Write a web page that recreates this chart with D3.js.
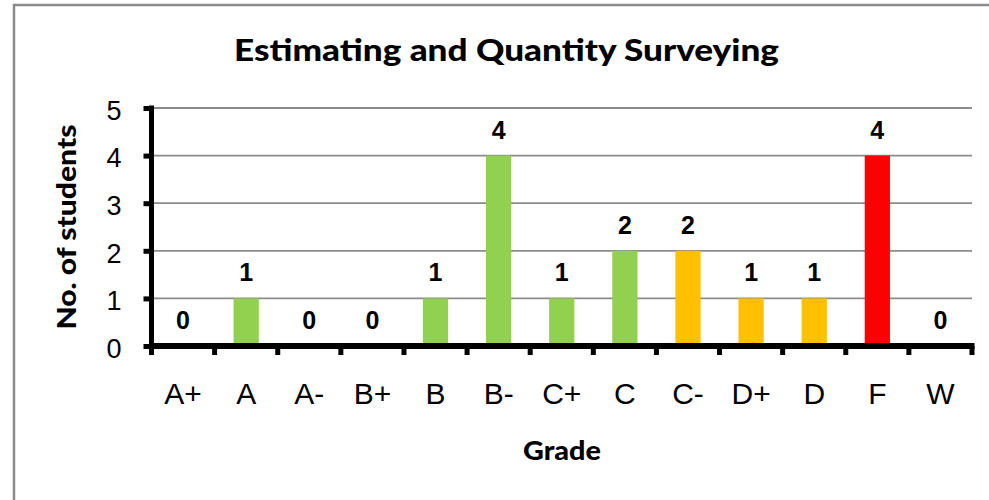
<!DOCTYPE html>
<html>
<head>
<meta charset="utf-8">
<script src="https://cdn.jsdelivr.net/npm/d3@7"></script>
<style>
  body { margin: 0; background: #fff; }
  svg { display: block; }
</style>
</head>
<body>
<script>
const WIDTH  = 989;
const HEIGHT = 500;

// data
const grades   = ["A+", "A", "A-", "B+", "B", "B-", "C+", "C", "C-", "D+", "D", "F", "W"];
const students = [0, 1, 0, 0, 1, 4, 1, 2, 2, 1, 1, 4, 0];
const bands    = ["pass", "pass", "pass", "pass", "pass", "pass", "pass", "pass", "low", "low", "low", "fail", "none"];
const yTicks   = [0, 1, 2, 3, 4, 5];

const dataset = grades.map((g, i) => ({ grade: g, value: students[i], band: bands[i] }));

const colour = d3.scaleOrdinal()
  .domain(["pass", "low", "fail", "none"])
  .range(["#92D050", "#FFC000", "#FF0000", "#92D050"]);

const svg = d3.select("body").append("svg")
  .attr("width", WIDTH)
  .attr("height", HEIGHT);

svg.append("rect")
  .attr("width", WIDTH).attr("height", HEIGHT)
  .attr("fill", "#fff");

// chart frame (runs off the right and bottom of the picture)
svg.append("rect")
  .attr("x", 14).attr("y", 5)
  .attr("width", 1100).attr("height", 600)
  .attr("fill", "none")
  .attr("stroke", "#8c8c8c")
  .attr("stroke-width", 2.5);

const xScale = d3.scaleBand()
  .domain(grades)
  .range([151.5, 972])
  .paddingInner(0.6)
  .paddingOuter(0.3);

const yScale = d3.scaleLinear()
  .domain([0, 5])
  .range([346, 108]);

// gridlines
svg.append("g")
  .selectAll("line")
  .data(yTicks.filter(d => d > 0))
  .enter().append("line")
    .attr("x1", 151.5).attr("x2", 972)
    .attr("y1", d => yScale(d)).attr("y2", d => yScale(d))
    .attr("stroke", "#8c8c8c")
    .attr("stroke-width", 1.8);

// bars
svg.append("g")
  .selectAll("rect")
  .data(dataset)
  .enter().append("rect")
    .attr("x", d => xScale(d.grade))
    .attr("y", d => yScale(d.value))
    .attr("width", xScale.bandwidth())
    .attr("height", d => yScale(0) - yScale(d.value))
    .attr("fill", d => colour(d.band));

// value labels
svg.append("g")
  .selectAll("text")
  .data(dataset)
  .enter().append("text")
    .attr("x", d => xScale(d.grade) + xScale.bandwidth() / 2)
    .attr("y", d => yScale(d.value) - 17)
    .attr("text-anchor", "middle")
    .style("font-family", "'Liberation Sans', Arial, sans-serif")
    .style("font-weight", "bold")
    .style("font-size", "25px")
    .text(d => d.value);

// y axis
const yAxis = d3.axisLeft(yScale)
  .tickValues(yTicks)
  .tickFormat(d3.format("d"))
  .tickSize(8)
  .tickSizeOuter(0)
  .tickPadding(22);

const yG = svg.append("g")
  .attr("transform", "translate(151.5,0)")
  .call(yAxis);
yG.select(".domain").attr("stroke", "#000").attr("stroke-width", 5).attr("d", "M0,105.5V348.5");
yG.selectAll(".tick line").attr("stroke", "#000").attr("stroke-width", 5);
yG.selectAll(".tick text")
  .attr("dy", "0.42em")
  .style("font-family", "'Liberation Sans', Arial, sans-serif")
  .style("font-size", "27px")
  .attr("fill", "#000");

// x axis: labels in the middle of each band, ticks on the band edges
const xAxis = d3.axisBottom(xScale)
  .tickSize(0)
  .tickSizeOuter(0)
  .tickPadding(37);

const xG = svg.append("g")
  .attr("transform", "translate(0," + yScale(0) + ")")
  .call(xAxis);
xG.select(".domain").remove();
xG.selectAll(".tick text")
  .style("font-family", "'Liberation Sans', Arial, sans-serif")
  .style("font-size", "30px")
  .attr("fill", "#000");

svg.append("line")
  .attr("x1", 149).attr("x2", 974.5)
  .attr("y1", yScale(0)).attr("y2", yScale(0))
  .attr("stroke", "#000")
  .attr("stroke-width", 6);

const edge = d => xScale(d) - xScale.step() * xScale.paddingOuter();
const edges = grades.map(edge).concat([edge(grades[grades.length - 1]) + xScale.step()]);

svg.append("g")
  .selectAll("line")
  .data(edges)
  .enter().append("line")
    .attr("x1", d => d).attr("x2", d => d)
    .attr("y1", yScale(0)).attr("y2", yScale(0) + 9)
    .attr("stroke", "#000")
    .attr("stroke-width", 5);

// titles
svg.append("text")
  .attr("x", 506.5)
  .attr("y", 61)
  .attr("text-anchor", "middle")
  .attr("textLength", 545)
  .attr("lengthAdjust", "spacingAndGlyphs")
  .style("font-family", "Lato, 'Open Sans', sans-serif")
  .style("font-weight", "900")
  .style("font-size", "30px")
  .text("Estimating and Quantity Surveying");

svg.append("text")
  .attr("x", 562)
  .attr("y", 460)
  .attr("text-anchor", "middle")
  .attr("textLength", 78)
  .attr("lengthAdjust", "spacingAndGlyphs")
  .style("font-family", "Lato, 'Open Sans', sans-serif")
  .style("font-weight", "900")
  .style("font-size", "26px")
  .text("Grade");

svg.append("text")
  .attr("transform", "translate(76,227) rotate(-90)")
  .attr("text-anchor", "middle")
  .attr("textLength", 205)
  .attr("lengthAdjust", "spacingAndGlyphs")
  .style("font-family", "Lato, 'Open Sans', sans-serif")
  .style("font-weight", "900")
  .style("font-size", "26px")
  .text("No. of students");
</script>
</body>
</html>
